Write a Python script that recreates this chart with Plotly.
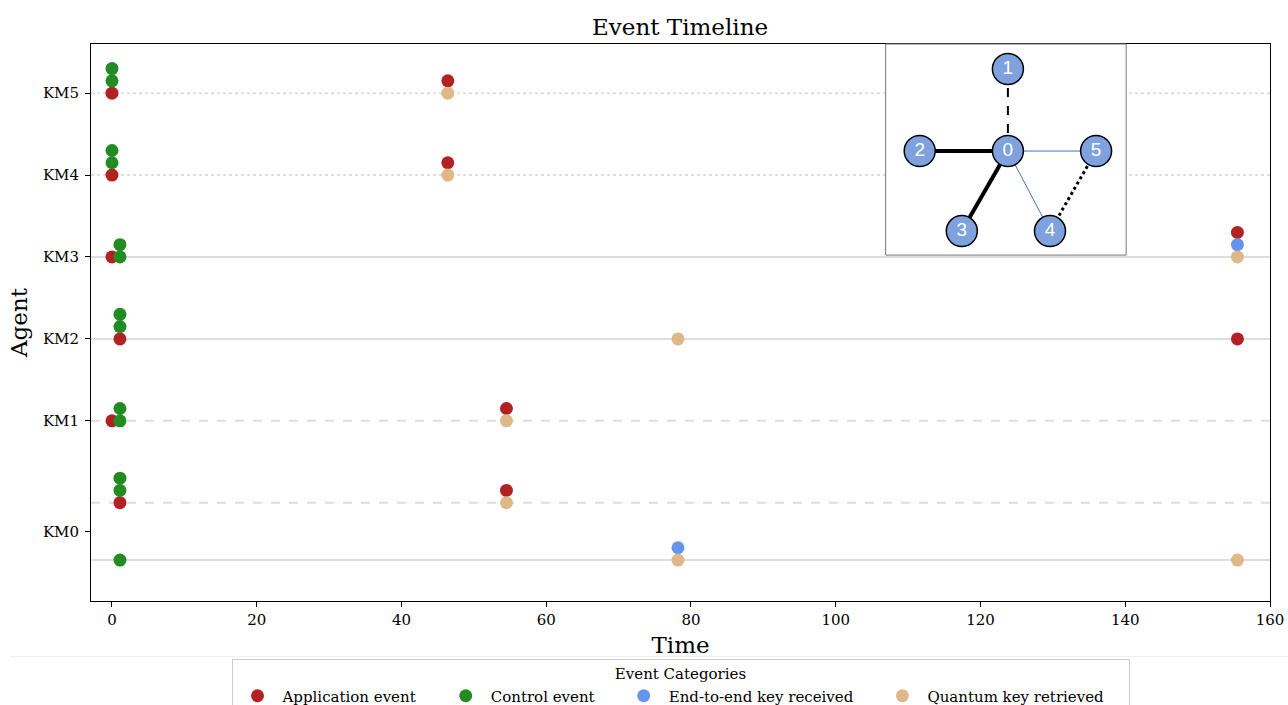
import plotly.graph_objects as go

# ---- data ----
agents = ["KM5", "KM4", "KM3", "KM2", "KM1", "KM0"]
agent_ticks = [5, 4, 3, 2, 1, -0.35]

app_x = [0, 0, 0, 1.1, 0, 1.1, 46.4, 46.4, 54.5, 54.5, 155.5, 155.5]
app_y = [5, 4, 3, 2, 1, 0, 5.15, 4.15, 1.15, 0.15, 3.3, 2]

ctrl_x = [0, 0, 0, 0, 1.1, 1.1, 1.1, 1.1, 1.1, 1.1, 1.1, 1.1, 1.1]
ctrl_y = [5.15, 5.3, 4.15, 4.3, 3, 3.15, 2.15, 2.3, 1, 1.15, 0.15, 0.3, -0.7]

e2e_x = [78.2, 155.5]
e2e_y = [-0.55, 3.15]

qk_x = [46.4, 46.4, 54.5, 54.5, 78.2, 78.2, 155.5, 155.5]
qk_y = [5, 4, 1, 0, 2, -0.7, 3, -0.7]

lanes = [5, 4, 3, 2, 1, 0, -0.7]
lane_styles = ["dot", "dot", "solid", "solid", "dash", "dash", "solid"]

# inset network
node_labels = ["0", "1", "2", "3", "4", "5"]
node_x = [122, 122, 34, 76, 164, 210]
node_y = [107, 25, 107, 187, 187, 107]
edges = [(0, 1), (0, 2), (0, 3), (0, 4), (0, 5), (4, 5)]
edge_styles = [("black", 2, "dash"), ("black", 4, "solid"), ("black", 4, "solid"),
               ("#4472C4", 1, "solid"), ("#4472C4", 1, "solid"), ("black", 3, "dot")]

FONT = "DejaVu Serif"
PAD = "\u00a0" * 4

fig = go.Figure()

series = [
    ("Application event", app_x, app_y, "#B22222"),
    ("Control event", ctrl_x, ctrl_y, "#228B22"),
    ("End-to-end key received", e2e_x, e2e_y, "#6495ED"),
    ("Quantum key retrieved", qk_x, qk_y, "#DEB887"),
]
for name, xs, ys, col in series:
    fig.add_trace(go.Scatter(x=xs, y=ys, mode="markers", name=name + PAD,
                             marker=dict(color=col, size=13, line=dict(width=0))))

# lane lines
for yv, st in zip(lanes, lane_styles):
    fig.add_shape(type="line", xref="x domain", yref="y", x0=0, x1=1, y0=yv, y1=yv,
                  line=dict(color="#dddddd", width=2, dash=st), layer="below")

# inset edges
for (a, b), (col, w, st) in zip(edges, edge_styles):
    fig.add_trace(go.Scatter(x=[node_x[a], node_x[b]], y=[node_y[a], node_y[b]],
                             mode="lines", line=dict(color=col, width=w, dash=st),
                             xaxis="x2", yaxis="y2", showlegend=False, hoverinfo="skip"))
fig.add_trace(go.Scatter(x=node_x, y=node_y, mode="markers+text", text=node_labels,
                         textposition="middle center",
                         textfont=dict(color="white", size=19, family="Liberation Sans"),
                         marker=dict(size=31, color="#7FA1DE", line=dict(color="black", width=1.5)),
                         xaxis="x2", yaxis="y2", showlegend=False, hoverinfo="skip"))

fig.update_layout(
    width=1288, height=705,
    margin=dict(l=91, r=18, t=44, b=104, autoexpand=False),
    paper_bgcolor="white", plot_bgcolor="white",
    font=dict(family=FONT, color="black", size=15),
    title=dict(text="Event Timeline", x=0.528, xanchor="center", y=0.9617, yanchor="middle",
               font=dict(size=23, family=FONT)),
    xaxis=dict(range=[-2.9, 160], tickvals=[0, 20, 40, 60, 80, 100, 120, 140, 160],
               showgrid=False, zeroline=False, showline=True, linecolor="black", linewidth=1,
               mirror=True, ticks="outside", ticklen=5, tickcolor="black",
               ticklabeloverflow="allow",
               title=dict(text="Time", font=dict(size=23), standoff=8),
               tickfont=dict(size=15)),
    yaxis=dict(range=[-1.2, 5.6], tickvals=agent_ticks, ticktext=agents,
               showgrid=False, zeroline=False, showline=True, linecolor="black", linewidth=1,
               mirror=True, ticks="outside", ticklen=5, tickcolor="black",
               ticklabelstandoff=3,
               title=dict(text="Agent", font=dict(size=23), standoff=8),
               tickfont=dict(size=15)),
    xaxis2=dict(domain=[0.674, 0.878], range=[0, 240], anchor="y2", visible=False, fixedrange=True),
    yaxis2=dict(domain=[0.621, 1.0], range=[211, 0], anchor="x2", visible=False, fixedrange=True),
    legend=dict(orientation="h", x=0.5, xanchor="center", y=-0.1041, yanchor="top",
                title=dict(text="Event Categories", side="top center", font=dict(size=15)),
                bordercolor="#cccccc", borderwidth=1, bgcolor="white",
                font=dict(size=15), itemwidth=40),
    showlegend=True,
)

# inset border
fig.add_shape(type="rect", xref="x2 domain", yref="y2 domain", x0=0, x1=1, y0=0, y1=1,
              line=dict(color="#777777", width=1))
# faint separator line
fig.add_shape(type="line", xref="paper", yref="paper", x0=-0.069, x1=1.02, y0=-0.1, y1=-0.1,
              line=dict(color="#eeeeee", width=1))

fig.write_html("out.html", config={"displayModeBar": False},
               post_script="document.body.style.margin='0';document.body.style.overflow='hidden';")
